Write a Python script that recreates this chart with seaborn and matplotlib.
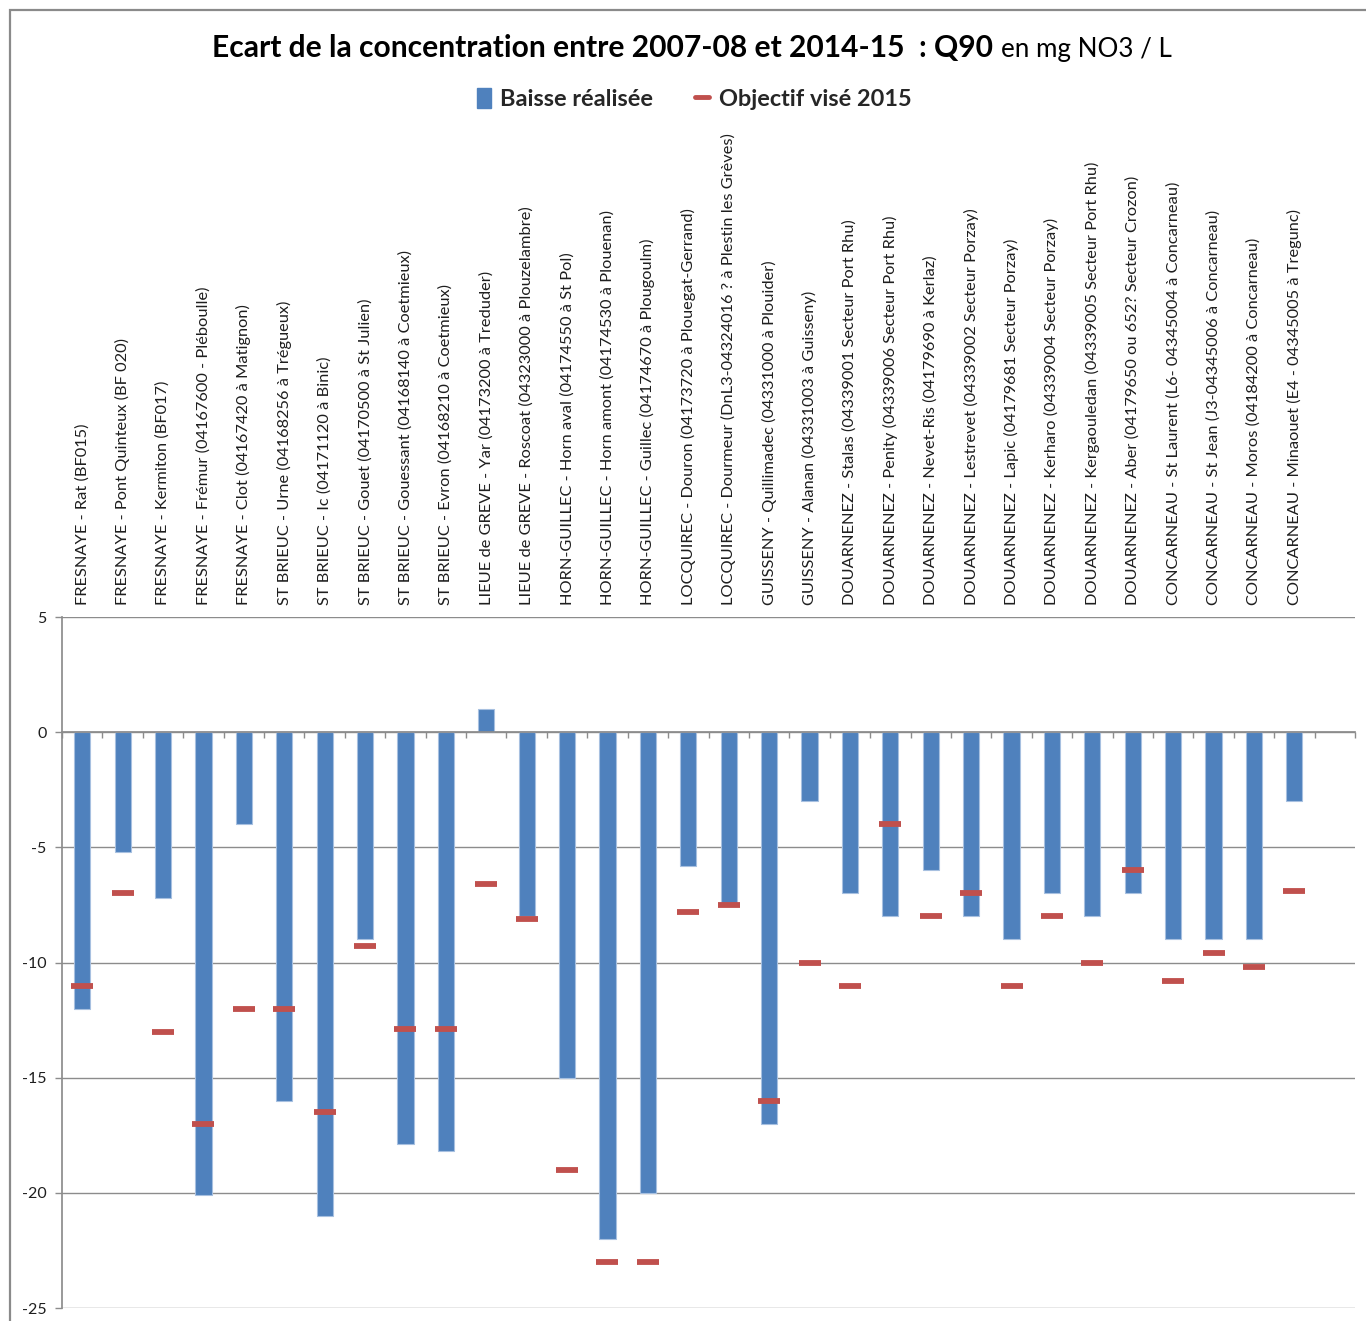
import numpy as np
import pandas as pd
import matplotlib
matplotlib.use("Agg")
import matplotlib.pyplot as plt
import seaborn as sns
from matplotlib.patches import Patch, Rectangle
from matplotlib.lines import Line2D
from matplotlib.ticker import FixedLocator

stations = [
    "FRESNAYE - Rat (BF015)",
    "FRESNAYE - Pont Quinteux (BF 020)",
    "FRESNAYE - Kermiton (BF017)",
    "FRESNAYE - Frémur (04167600 - Pléboulle)",
    "FRESNAYE - Clot (04167420 à Matignon)",
    "ST BRIEUC - Urne (04168256 à Trégueux)",
    "ST BRIEUC - Ic (04171120 à Binic)",
    "ST BRIEUC - Gouet (04170500 à St Julien)",
    "ST BRIEUC - Gouessant (04168140 à Coetmieux)",
    "ST BRIEUC - Evron (04168210 à Coetmieux)",
    "LIEUE de GREVE - Yar (04173200 à Treduder)",
    "LIEUE de GREVE - Roscoat (04323000 à Plouzelambre)",
    "HORN-GUILLEC - Horn aval (04174550 à St Pol)",
    "HORN-GUILLEC - Horn amont (04174530 à Plouenan)",
    "HORN-GUILLEC - Guillec (04174670 à Plougoulm)",
    "LOCQUIREC - Douron (04173720 à Plouegat-Gerrand)",
    "LOCQUIREC - Dourmeur (DnL3-04324016 ? à Plestin les Grèves)",
    "GUISSENY - Quillimadec (04331000 à Plouider)",
    "GUISSENY - Alanan (04331003 à Guisseny)",
    "DOUARNENEZ - Stalas (04339001 Secteur Port Rhu)",
    "DOUARNENEZ - Penity (04339006 Secteur Port Rhu)",
    "DOUARNENEZ - Nevet-Ris (04179690 à Kerlaz)",
    "DOUARNENEZ - Lestrevet (04339002 Secteur Porzay)",
    "DOUARNENEZ - Lapic (04179681 Secteur Porzay)",
    "DOUARNENEZ - Kerharo (04339004 Secteur Porzay)",
    "DOUARNENEZ - Kergaouledan (04339005 Secteur Port Rhu)",
    "DOUARNENEZ - Aber (04179650 ou 652? Secteur Crozon)",
    "CONCARNEAU - St Laurent (L6- 04345004 à Concarneau)",
    "CONCARNEAU - St Jean (J3-04345006 à Concarneau)",
    "CONCARNEAU - Moros (04184200 à Concarneau)",
    "CONCARNEAU - Minaouet (E4 - 04345005 à Tregunc)",
]

baisse_realisee = [
    -12, -5.2, -7.2, -20.1, -4, -16, -21, -9, -17.9, -18.2,
    1, -8, -15, -22, -20, -5.8, -7.4, -17, -3, -7,
    -8, -6, -8, -9, -7, -8, -7, -9, -9, -9, -3,
]

objectif_2015 = [
    -11, -7, -13, -17, -12, -12, -16.5, -9.3, -12.9, -12.9,
    -6.6, -8.1, -19, -23, -23, -7.8, -7.5, -16, -10, -11,
    -4, -8, -7, -11, -8, -10, -6, -10.8, -9.6, -10.2, -6.9,
]

y_ticks = [5, 0, -5, -10, -15, -20, -25]

BLUE = "#4F81BD"
RED = "#C0504D"
GRID = "#8C8C8C"
TEXT = "#1E1E1E"

sns.set_theme(style="white")
plt.rcParams["font.family"] = ["Lato", "DejaVu Sans"]

W, H = 1366, 1321
fig = plt.figure(figsize=(W / 100, H / 100), dpi=100)
ax = fig.add_axes([62 / W, 1 - 1308 / H, (1355 - 62) / W, (1308 - 617) / H])

df = pd.DataFrame({"station": stations,
                   "baisse": baisse_realisee,
                   "objectif": objectif_2015})

sns.barplot(data=df, x="station", y="baisse", color=BLUE, saturation=1,
            width=0.4, edgecolor="#A7C0E0", linewidth=0.8, ax=ax, zorder=2)
sns.scatterplot(data=df, x="station", y="objectif", marker="_", s=250,
                linewidth=4.2, color=RED, ax=ax, zorder=3, legend=False)

# axes: one spare category slot at the right end
ax.set_xlim(-0.5, len(stations) + 0.5)
ax.set_ylim(-25, 5)
ax.set_yticks(y_ticks)
ax.set_yticklabels([str(v) for v in y_ticks])
ax.set_xlabel("")
ax.set_ylabel("")

ax.set_axisbelow(True)
ax.yaxis.grid(True, color=GRID, linewidth=1.0)
ax.xaxis.grid(False)

for side in ("top", "right"):
    ax.spines[side].set_visible(False)
ax.spines["left"].set_color(GRID)
ax.spines["bottom"].set_color(GRID)
ax.spines["bottom"].set_position(("data", 0))

# station names above the plot area, boundary ticks on the zero line
ax.tick_params(axis="x", which="major", top=True, labeltop=True,
               bottom=False, labelbottom=False, length=0, pad=8.5,
               labelrotation=90, labelsize=11.8, labelcolor=TEXT)
ax.xaxis.set_minor_locator(FixedLocator(np.arange(-0.5, len(stations) + 1, 1)))
ax.tick_params(axis="x", which="minor", bottom=True, top=False,
               length=4, width=1, color=GRID, direction="out")
ax.tick_params(axis="y", which="major", left=True, length=5, width=1,
               color=GRID, direction="out", labelsize=11.5,
               labelcolor=TEXT, pad=6)

# title in two weights
fig.canvas.draw()
renderer = fig.canvas.get_renderer()
ty = 1 - 57 / H
t1 = fig.text(0, ty, "Ecart de la concentration entre 2007-08 et 2014-15  : Q90",
              fontsize=21.6, fontweight="bold", color="black",
              ha="left", va="baseline")
t2 = fig.text(0, ty, "en mg NO3 / L", fontsize=18.7, color="black",
              ha="left", va="baseline")
w1 = t1.get_window_extent(renderer).width
w2 = t2.get_window_extent(renderer).width
gap = 8
start = 692 - (w1 + gap + w2) / 2
t1.set_x(start / W)
t2.set_x((start + w1 + gap) / W)

handles = [Patch(facecolor=BLUE, edgecolor=BLUE),
           Line2D([], [], color=RED, linewidth=3.5)]
fig.legend(handles, ["Baisse réalisée", "Objectif visé 2015"],
           loc="center", bbox_to_anchor=(694 / W, 1 - 99 / H), ncol=2,
           frameon=False, handlelength=0.6, handleheight=0.9,
           handletextpad=0.4, columnspacing=1.8,
           prop={"weight": "bold", "size": 16.9})

# chart frame
fig.patches.append(Rectangle((10 / W, -0.05), 1.2, 1 - 10 / H + 0.05,
                             transform=fig.transFigure, fill=False,
                             edgecolor="#8A8A8A", linewidth=1.6))

fig.savefig("out.png", dpi=100, facecolor="white")
